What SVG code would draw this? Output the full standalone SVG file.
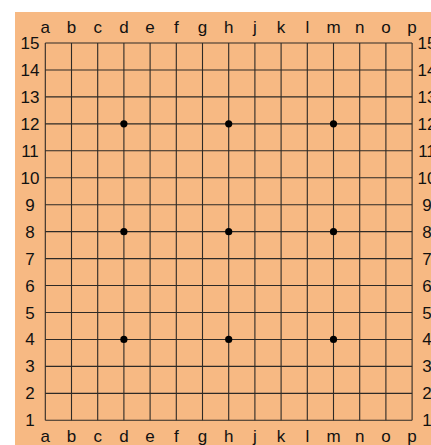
<svg xmlns="http://www.w3.org/2000/svg" width="431" height="445" viewBox="0 0 431 445">
<style>
.g{stroke:#2e2a26;stroke-width:1.1;fill:none}
.t{font-family:"Liberation Sans",Arial,sans-serif;font-size:17px;fill:#111;text-anchor:middle}
.s{fill:#000}
</style>
<rect x="0" y="0" width="431" height="445" fill="#ffffff"/>
<rect id="board" x="15" y="12" width="416" height="433" fill="#F7B983"/>
<g id="grid" class="g">
<path d="M45.3 43V420.3M71.5 43V420.3M97.7 43V420.3M123.9 43V420.3M150.1 43V420.3M176.3 43V420.3M202.5 43V420.3M228.7 43V420.3M254.9 43V420.3M281.1 43V420.3M307.3 43V420.3M333.5 43V420.3M359.7 43V420.3M385.9 43V420.3M412.1 43V420.3"/>
<path d="M45.3 43H412.1M45.3 69.95H412.1M45.3 96.9H412.1M45.3 123.85H412.1M45.3 150.8H412.1M45.3 177.75H412.1M45.3 204.7H412.1M45.3 231.65H412.1M45.3 258.6H412.1M45.3 285.55H412.1M45.3 312.5H412.1M45.3 339.45H412.1M45.3 366.4H412.1M45.3 393.35H412.1M45.3 420.3H412.1"/>
</g>
<g id="stars" class="s">
<circle cx="123.9" cy="123.85" r="3.6"/><circle cx="228.7" cy="123.85" r="3.6"/><circle cx="333.5" cy="123.85" r="3.6"/>
<circle cx="123.9" cy="231.65" r="3.6"/><circle cx="228.7" cy="231.65" r="3.6"/><circle cx="333.5" cy="231.65" r="3.6"/>
<circle cx="123.9" cy="339.45" r="3.6"/><circle cx="228.7" cy="339.45" r="3.6"/><circle cx="333.5" cy="339.45" r="3.6"/>
</g>
<g id="top-labels" class="t">
<text x="45.3" y="33">a</text><text x="71.5" y="33">b</text><text x="97.7" y="33">c</text><text x="123.9" y="33">d</text><text x="150.1" y="33">e</text><text x="176.3" y="33">f</text><text x="202.5" y="33">g</text><text x="228.7" y="33">h</text><text x="254.9" y="33">j</text><text x="281.1" y="33">k</text><text x="307.3" y="33">l</text><text x="333.5" y="33">m</text><text x="359.7" y="33">n</text><text x="385.9" y="33">o</text><text x="412.1" y="33">p</text>
</g>
<g id="bottom-labels" class="t">
<text x="45.3" y="441.5">a</text><text x="71.5" y="441.5">b</text><text x="97.7" y="441.5">c</text><text x="123.9" y="441.5">d</text><text x="150.1" y="441.5">e</text><text x="176.3" y="441.5">f</text><text x="202.5" y="441.5">g</text><text x="228.7" y="441.5">h</text><text x="254.9" y="441.5">j</text><text x="281.1" y="441.5">k</text><text x="307.3" y="441.5">l</text><text x="333.5" y="441.5">m</text><text x="359.7" y="441.5">n</text><text x="385.9" y="441.5">o</text><text x="412.1" y="441.5">p</text>
</g>
<g id="left-labels" class="t">
<text x="30" y="49">15</text><text x="30" y="75.95">14</text><text x="30" y="102.9">13</text><text x="30" y="129.85">12</text><text x="30" y="156.8">11</text><text x="30" y="183.75">10</text><text x="30" y="210.7">9</text><text x="30" y="237.65">8</text><text x="30" y="264.6">7</text><text x="30" y="291.55">6</text><text x="30" y="318.5">5</text><text x="30" y="345.45">4</text><text x="30" y="372.4">3</text><text x="30" y="399.35">2</text><text x="30" y="426.3">1</text>
</g>
<g id="right-labels" class="t">
<text x="427" y="49">15</text><text x="427" y="75.95">14</text><text x="427" y="102.9">13</text><text x="427" y="129.85">12</text><text x="427" y="156.8">11</text><text x="427" y="183.75">10</text><text x="427" y="210.7">9</text><text x="427" y="237.65">8</text><text x="427" y="264.6">7</text><text x="427" y="291.55">6</text><text x="427" y="318.5">5</text><text x="427" y="345.45">4</text><text x="427" y="372.4">3</text><text x="427" y="399.35">2</text><text x="427" y="426.3">1</text>
</g>
</svg>
